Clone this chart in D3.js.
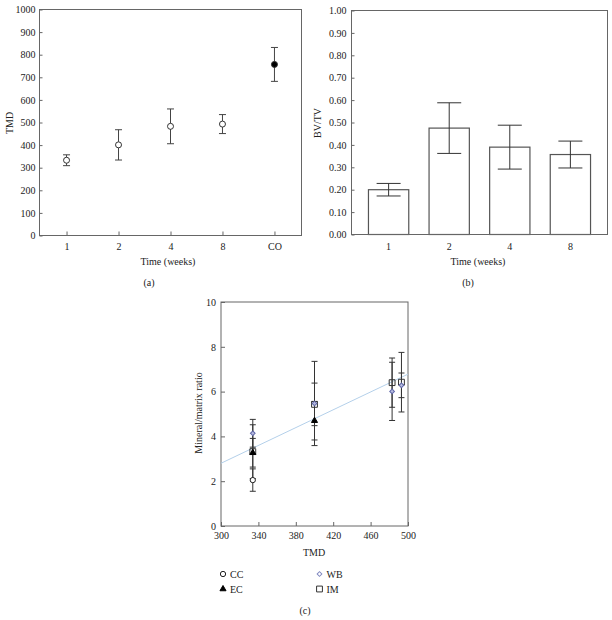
<!DOCTYPE html>
<html>
<head>
<meta charset="utf-8">
<script src="https://cdn.jsdelivr.net/npm/d3@7"></script>
<style>
  body { margin: 0; background: #fff; }
  svg text { font-family: "Liberation Serif", "Times New Roman", "DejaVu Serif", serif; fill: #222; }
</style>
</head>
<body>
<div id="chart"></div>
<script>
// panel (a) TMD over time
var weeksA = ["1", "2", "4", "8", "CO"]
var tmdMean = [333, 401, 483, 493, 757]
var tmdErr = [24, 67, 77, 42, 75]
var tmdTicks = [0, 100, 200, 300, 400, 500, 600, 700, 800, 900, 1000]

// panel (b) BV/TV bars
var weeksB = ["1", "2", "4", "8"]
var bvtvMean = [0.20, 0.475, 0.39, 0.357]
var bvtvErr = [0.028, 0.113, 0.098, 0.06]
var bvtvTicks = [0, 0.1, 0.2, 0.3, 0.4, 0.5, 0.6, 0.7, 0.8, 0.9, 1.0]

// panel (c) mineral/matrix ratio vs TMD
var ccTmd = [334], ccRatio = [2.05], ccErr = [0.5]
var ecTmd = [334, 400], ecRatio = [3.27, 4.70], ecErr = [0.64, 0.86]
var wbTmd = [334, 400, 483, 493], wbRatio = [4.14, 5.47, 6.01, 6.28], wbErr = [0.62, 1.88, 1.3, 0.55]
var imTmd = [334, 400, 483, 493], imRatio = [3.32, 5.43, 6.40, 6.42], imErr = [1.2, 0.95, 1.1, 1.33]
var trendTmd = [300, 500], trendRatio = [2.8, 6.78]
var cxTicks = [300, 340, 380, 420, 460, 500]
var cyTicks = [0, 2, 4, 6, 8, 10]

var axisColor = "#666"
var serif = "Liberation Serif, Times New Roman, DejaVu Serif, serif"

var svg = d3.select("#chart").append("svg")
    .attr("width", 612)
    .attr("height", 620)

function styleAxis(g) {
    g.attr("font-family", serif)
    g.select(".domain").remove()
    g.selectAll(".tick line").attr("stroke", axisColor)
    g.selectAll(".tick text").attr("font-size", 10).attr("fill", "#222")
}

function box(g, x0, y0, x1, y1) {
    g.append("rect")
        .attr("x", x0).attr("y", y0)
        .attr("width", x1 - x0).attr("height", y1 - y0)
        .attr("fill", "none")
        .attr("stroke", axisColor)
        .attr("stroke-width", 1)
}

function errBar(g, x, yTop, yBot, capW, color) {
    g.append("line").attr("x1", x).attr("x2", x).attr("y1", yTop).attr("y2", yBot)
        .attr("stroke", color).attr("stroke-width", 1)
    g.append("line").attr("x1", x - capW / 2).attr("x2", x + capW / 2).attr("y1", yTop).attr("y2", yTop)
        .attr("stroke", color).attr("stroke-width", 1)
    g.append("line").attr("x1", x - capW / 2).attr("x2", x + capW / 2).attr("y1", yBot).attr("y2", yBot)
        .attr("stroke", color).attr("stroke-width", 1)
}

// ---------- panel (a) ----------
var a = svg.append("g")
var ax = d3.scalePoint().domain(weeksA).range([39.5, 301.5]).padding(0.52)
var ay = d3.scaleLinear().domain([0, 1000]).range([235.5, 9.5])

a.append("g").attr("transform", "translate(0,235.5)")
    .call(d3.axisBottom(ax).tickSize(-4).tickPadding(7))
    .call(styleAxis)
a.append("g").attr("transform", "translate(39.5,0)")
    .call(d3.axisLeft(ay).tickValues(tmdTicks).tickFormat(d3.format("d")).tickSize(-3).tickPadding(4))
    .call(styleAxis)
box(a, 39.5, 9.5, 301.5, 235.5)

weeksA.forEach(function (w, i) {
    errBar(a, ax(w), ay(tmdMean[i] + tmdErr[i]), ay(tmdMean[i] - tmdErr[i]), 7, "#444")
})
a.selectAll("circle").data(weeksA).enter().append("circle")
    .attr("cx", w => ax(w))
    .attr("cy", (w, i) => ay(tmdMean[i]))
    .attr("r", 3)
    .attr("fill", w => w == "CO" ? "#000" : "#fff")
    .attr("stroke", "#333")

a.append("text").attr("x", 168).attr("y", 265).attr("text-anchor", "middle")
    .attr("font-size", 10).text("Time (weeks)")
a.append("text").attr("x", 149).attr("y", 286).attr("text-anchor", "middle")
    .attr("font-size", 10).text("(a)")
a.append("text").attr("transform", "translate(13,123) rotate(-90)").attr("text-anchor", "middle")
    .attr("font-size", 10).text("TMD")

// ---------- panel (b) ----------
var b = svg.append("g")
var bx = d3.scaleBand().domain(weeksB).range([351.5, 607.5]).paddingInner(0.335).paddingOuter(0.28)
var by = d3.scaleLinear().domain([0, 1]).range([234.5, 10.5])

b.append("g").attr("transform", "translate(0,234.5)")
    .call(d3.axisBottom(bx).tickSize(-4).tickPadding(8))
    .call(styleAxis)
b.append("g").attr("transform", "translate(351.5,0)")
    .call(d3.axisLeft(by).tickValues(bvtvTicks).tickFormat(d3.format(".2f")).tickSize(-3).tickPadding(5))
    .call(styleAxis)

b.selectAll("rect.bar").data(weeksB).enter().append("rect")
    .attr("class", "bar")
    .attr("x", w => bx(w))
    .attr("y", (w, i) => by(bvtvMean[i]))
    .attr("width", bx.bandwidth())
    .attr("height", (w, i) => by(0) - by(bvtvMean[i]))
    .attr("fill", "#fff")
    .attr("stroke", "#555")
    .attr("stroke-width", 1.2)
weeksB.forEach(function (w, i) {
    errBar(b, bx(w) + bx.bandwidth() / 2, by(bvtvMean[i] + bvtvErr[i]), by(bvtvMean[i] - bvtvErr[i]), 24, "#333")
})
box(b, 351.5, 10.5, 607.5, 234.5)

b.append("text").attr("x", 478).attr("y", 265).attr("text-anchor", "middle")
    .attr("font-size", 10).text("Time (weeks)")
b.append("text").attr("x", 468).attr("y", 286).attr("text-anchor", "middle")
    .attr("font-size", 10).text("(b)")
b.append("text").attr("transform", "translate(321,123) rotate(-90)").attr("text-anchor", "middle")
    .attr("font-size", 10).text("BV/TV")

// ---------- panel (c) ----------
var c = svg.append("g")
var cx = d3.scaleLinear().domain([300, 500]).range([221, 408])
var cy = d3.scaleLinear().domain([0, 10]).range([526, 302])

c.append("g").attr("transform", "translate(0,526)")
    .call(d3.axisBottom(cx).tickValues(cxTicks).tickSize(-4).tickPadding(6))
    .call(styleAxis)
c.append("g").attr("transform", "translate(221,0)")
    .call(d3.axisLeft(cy).tickValues(cyTicks).tickSize(-4).tickPadding(5))
    .call(styleAxis)
box(c, 221, 302, 408, 526)

c.append("line")
    .attr("x1", cx(trendTmd[0])).attr("y1", cy(trendRatio[0]))
    .attr("x2", cx(trendTmd[1])).attr("y2", cy(trendRatio[1]))
    .attr("stroke", "#b4d0ea").attr("stroke-width", 1)

function errSeries(xs, ys, es) {
    xs.forEach(function (x, i) {
        errBar(c, cx(x), cy(ys[i] + es[i]), cy(ys[i] - es[i]), 6, "#333")
    })
}
errSeries(ccTmd, ccRatio, ccErr)
errSeries(ecTmd, ecRatio, ecErr)
errSeries(wbTmd, wbRatio, wbErr)
errSeries(imTmd, imRatio, imErr)

var sym = {
    CC: { path: d3.symbol().type(d3.symbolCircle).size(22)(), rot: 0 },
    EC: { path: d3.symbol().type(d3.symbolTriangle).size(16)(), rot: 0 },
    WB: { path: d3.symbol().type(d3.symbolSquare).size(11)(), rot: 45 },
    IM: { path: d3.symbol().type(d3.symbolSquare).size(34)(), rot: 0 }
}
var symStyle = {
    CC: { fill: "#fff", stroke: "#222" },
    EC: { fill: "#000", stroke: "#000" },
    WB: { fill: "#b8bce0", stroke: "#6068a8" },
    IM: { fill: "none", stroke: "#333" }
}

function drawSeries(name, xs, ys) {
    c.selectAll("path." + name).data(xs).enter().append("path")
        .attr("class", name)
        .attr("d", sym[name].path)
        .attr("transform", (x, i) => "translate(" + cx(x) + "," + cy(ys[i]) + ") rotate(" + sym[name].rot + ")")
        .attr("fill", symStyle[name].fill)
        .attr("stroke", symStyle[name].stroke)
        .attr("stroke-width", 1)
}
drawSeries("CC", ccTmd, ccRatio)
drawSeries("IM", imTmd, imRatio)
drawSeries("WB", wbTmd, wbRatio)
drawSeries("EC", ecTmd, ecRatio)

c.append("text").attr("x", 314).attr("y", 556).attr("text-anchor", "middle")
    .attr("font-size", 10).text("TMD")
c.append("text").attr("transform", "translate(202,413) rotate(-90)").attr("text-anchor", "middle")
    .attr("font-size", 10).text("Mineral/matrix ratio")
c.append("text").attr("x", 305).attr("y", 614).attr("text-anchor", "middle")
    .attr("font-size", 10).text("(c)")

// legend
var legendNames = ["CC", "EC", "WB", "IM"]
var legendX = [223, 223, 319.5, 319.5]
var legendY = [574, 589, 574, 589]
legendNames.forEach(function (n, i) {
    c.append("path").attr("d", sym[n].path)
        .attr("transform", "translate(" + legendX[i] + "," + legendY[i] + ") rotate(" + sym[n].rot + ")")
        .attr("fill", n == "WB" ? "#fff" : symStyle[n].fill)
        .attr("stroke", n == "WB" ? "#8088c0" : symStyle[n].stroke)
    c.append("text").attr("x", legendX[i] + 7).attr("y", legendY[i] + 3.5)
        .attr("font-size", 10).text(n)
})
</script>
</body>
</html>
